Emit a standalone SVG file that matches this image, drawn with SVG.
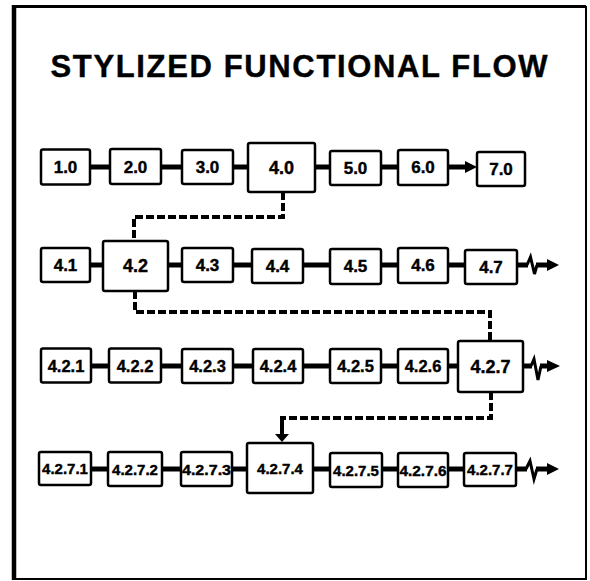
<svg xmlns="http://www.w3.org/2000/svg" width="590" height="581" viewBox="0 0 590 581">
<defs>
<style>
.box{fill:#fff;stroke:#000;stroke-width:2.5}
.t{font-family:"Liberation Sans",Arial,sans-serif;font-weight:bold;text-anchor:middle;fill:#000;stroke:#000;stroke-width:0.4}
.s{font-size:17px}
.b{font-size:18px}
.m{font-size:16.5px}
.n{font-size:15px}
.ln{stroke:#000;stroke-width:5;fill:none}
.dash{stroke:#000;stroke-width:4;fill:none;stroke-dasharray:8 3}
.sq{stroke:#000;stroke-width:3;fill:none;stroke-linejoin:miter}
</style>
</defs>
<rect x="0" y="0" width="590" height="581" fill="#fff"/>
<g id="frame" fill="none" stroke="#000">
<line x1="14" y1="6.5" x2="586" y2="6.5" stroke-width="3"/>
<line x1="14" y1="5" x2="14" y2="580" stroke-width="4.5"/>
<line x1="586" y1="6" x2="586" y2="580" stroke-width="2"/>
<line x1="14" y1="579" x2="586" y2="579" stroke-width="2"/>
</g>
<text class="t" x="299" y="77" font-size="31" stroke-width="0.9" textLength="497" lengthAdjust="spacing">STYLIZED FUNCTIONAL FLOW</text>

<g id="connectors">
<!-- row 1 -->
<line class="ln" x1="90" y1="167" x2="110" y2="167"/>
<line class="ln" x1="161" y1="167" x2="182" y2="167"/>
<line class="ln" x1="233" y1="167" x2="248" y2="167"/>
<line class="ln" x1="315" y1="167" x2="330" y2="167"/>
<line class="ln" x1="381" y1="167" x2="398" y2="167"/>
<line class="ln" x1="448" y1="167" x2="467" y2="167"/>
<polygon points="465,161 477,167 465,173" fill="#000"/>
<!-- row 2 -->
<line class="ln" x1="90" y1="265" x2="103" y2="265"/>
<line class="ln" x1="168" y1="265" x2="182" y2="265"/>
<line class="ln" x1="233" y1="265" x2="252" y2="265"/>
<line class="ln" x1="303" y1="265" x2="330" y2="265"/>
<line class="ln" x1="381" y1="265" x2="398" y2="265"/>
<line class="ln" x1="448" y1="265" x2="465" y2="265"/>
<line class="ln" x1="517" y1="265" x2="528" y2="265"/>
<polyline class="sq" points="527,265 530.5,257 534.5,274 537,265"/>
<line class="ln" x1="536" y1="265" x2="549" y2="265"/>
<polygon points="547,259 559,265 547,271" fill="#000"/>
<!-- row 3 -->
<line class="ln" x1="91" y1="366" x2="109" y2="366"/>
<line class="ln" x1="161" y1="366" x2="182" y2="366"/>
<line class="ln" x1="233" y1="366" x2="253" y2="366"/>
<line class="ln" x1="303" y1="366" x2="330" y2="366"/>
<line class="ln" x1="381" y1="366" x2="398" y2="366"/>
<line class="ln" x1="448" y1="366" x2="458" y2="366"/>
<line class="ln" x1="523" y1="366" x2="532" y2="366"/>
<polyline class="sq" points="531,366 534,359 538,380 541,366"/>
<line class="ln" x1="540" y1="366" x2="549" y2="366"/>
<polygon points="547,360 560,366 547,372" fill="#000"/>
<!-- row 4 -->
<line class="ln" x1="91" y1="469" x2="108" y2="469"/>
<line class="ln" x1="162" y1="469" x2="181" y2="469"/>
<line class="ln" x1="232" y1="469" x2="247" y2="469"/>
<line class="ln" x1="313" y1="469" x2="330" y2="469"/>
<line class="ln" x1="382" y1="469" x2="398" y2="469"/>
<line class="ln" x1="448" y1="469" x2="464" y2="469"/>
<line class="ln" x1="516" y1="469" x2="527" y2="469"/>
<polyline class="sq" points="526,469 530,461 534,479 537,469"/>
<line class="ln" x1="536" y1="469" x2="549" y2="469"/>
<polygon points="547,463 559,469 547,475" fill="#000"/>
<!-- dashed -->
<polyline class="dash" points="283,192 283,217 134,217 134,241"/>
<polyline class="dash" points="135,291 135,312 490,312 490,341"/>
<polyline class="dash" points="491,392 491,418 282,418"/>
<line x1="282" y1="416" x2="282" y2="436" stroke="#000" stroke-width="4"/>
<polygon points="275,434 289,434 282,442" fill="#000"/>
</g>

<g id="n1_0"><rect class="box" x="41" y="149.5" width="49" height="35" rx="2"/><text class="t s" x="65.5" y="173">1.0</text></g>
<g id="n2_0"><rect class="box" x="110" y="149" width="51" height="35" rx="2"/><text class="t s" x="135.5" y="173">2.0</text></g>
<g id="n3_0"><rect class="box" x="182" y="150" width="51" height="34" rx="2"/><text class="t s" x="207.5" y="173">3.0</text></g>
<g id="n4_0"><rect class="box" x="248" y="143" width="67" height="49" rx="2"/><text class="t b" x="281.5" y="174">4.0</text></g>
<g id="n5_0"><rect class="box" x="330" y="151" width="51" height="34" rx="2"/><text class="t s" x="355.5" y="174">5.0</text></g>
<g id="n6_0"><rect class="box" x="398" y="150" width="50" height="35" rx="2"/><text class="t s" x="423" y="173">6.0</text></g>
<g id="n7_0"><rect class="box" x="477" y="152" width="48" height="34" rx="2"/><text class="t s" x="501" y="175">7.0</text></g>

<g id="n4_1"><rect class="box" x="41" y="248" width="49" height="34" rx="2"/><text class="t s" x="65.5" y="271">4.1</text></g>
<g id="n4_2"><rect class="box" x="103" y="241" width="65" height="50" rx="2"/><text class="t b" x="135.5" y="272">4.2</text></g>
<g id="n4_3"><rect class="box" x="182" y="248" width="51" height="34" rx="2"/><text class="t s" x="207.5" y="271">4.3</text></g>
<g id="n4_4"><rect class="box" x="252" y="249" width="51" height="34" rx="2"/><text class="t s" x="277.5" y="272">4.4</text></g>
<g id="n4_5"><rect class="box" x="330" y="249" width="51" height="35" rx="2"/><text class="t s" x="355.5" y="272">4.5</text></g>
<g id="n4_6"><rect class="box" x="398" y="248" width="50" height="35" rx="2"/><text class="t s" x="423" y="271">4.6</text></g>
<g id="n4_7"><rect class="box" x="465" y="250" width="52" height="34" rx="2"/><text class="t s" x="491" y="273">4.7</text></g>

<g id="n4_2_1"><rect class="box" x="41" y="348.5" width="50" height="34" rx="2"/><text class="t m" x="66" y="371.5">4.2.1</text></g>
<g id="n4_2_2"><rect class="box" x="109" y="348.5" width="52" height="34" rx="2"/><text class="t m" x="135" y="371.5">4.2.2</text></g>
<g id="n4_2_3"><rect class="box" x="182" y="349" width="51" height="34" rx="2"/><text class="t m" x="207.5" y="372">4.2.3</text></g>
<g id="n4_2_4"><rect class="box" x="253" y="349" width="50" height="34" rx="2"/><text class="t m" x="278" y="372">4.2.4</text></g>
<g id="n4_2_5"><rect class="box" x="330" y="349" width="51" height="34" rx="2"/><text class="t m" x="355.5" y="372">4.2.5</text></g>
<g id="n4_2_6"><rect class="box" x="398" y="349" width="50" height="34" rx="2"/><text class="t m" x="423" y="372">4.2.6</text></g>
<g id="n4_2_7"><rect class="box" x="458" y="341" width="65" height="51" rx="2"/><text class="t b" x="490.5" y="372.5">4.2.7</text></g>

<g id="n4_2_7_1"><rect class="box" x="39" y="452" width="52" height="33" rx="2"/><text class="t n" x="65" y="474">4.2.7.1</text></g>
<g id="n4_2_7_2"><rect class="box" x="108" y="452" width="54" height="34" rx="2"/><text class="t n" x="135" y="474.5">4.2.7.2</text></g>
<g id="n4_2_7_3"><rect class="box" x="181" y="452" width="51" height="34" rx="2"/><text class="t n" x="206.5" y="474.5" textLength="49" lengthAdjust="spacingAndGlyphs">4.2.7.3</text></g>
<g id="n4_2_7_4"><rect class="box" x="247" y="443" width="66" height="50" rx="2"/><text class="t n" x="280" y="474">4.2.7.4</text></g>
<g id="n4_2_7_5"><rect class="box" x="330" y="453" width="52" height="34" rx="2"/><text class="t n" x="356" y="475.5">4.2.7.5</text></g>
<g id="n4_2_7_6"><rect class="box" x="398" y="453" width="50" height="34" rx="2"/><text class="t n" x="423" y="475.5" textLength="47" lengthAdjust="spacingAndGlyphs">4.2.7.6</text></g>
<g id="n4_2_7_7"><rect class="box" x="464" y="453" width="52" height="33" rx="2"/><text class="t n" x="490" y="475">4.2.7.7</text></g>
</svg>
